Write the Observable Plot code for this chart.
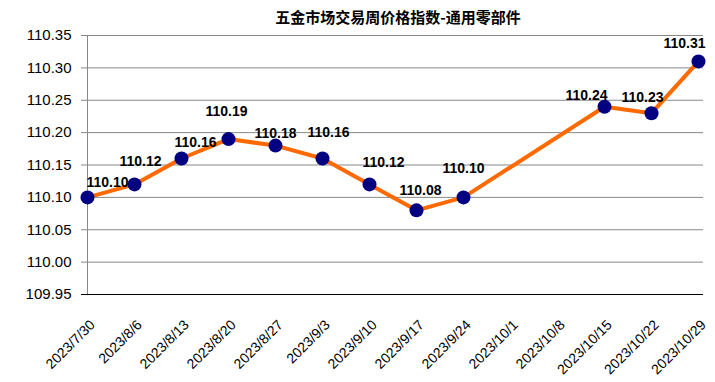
<!DOCTYPE html>
<html>
<head>
<meta charset="utf-8">
<script src="https://cdn.jsdelivr.net/npm/d3@7"></script>
<script src="https://cdn.jsdelivr.net/npm/@observablehq/plot@0.6"></script>
<style>
  html, body { margin: 0; padding: 0; background: #fff; }
  #wrap { position: relative; width: 715px; height: 382px; }
  #title { position: absolute; top: 6px; left: 398px; transform: translateX(-50%);
    font-family: "Noto Sans CJK SC", sans-serif; font-weight: 700; font-size: 15px; white-space: nowrap; color: #000; }
</style>
</head>
<body>
<div id="wrap"><div id="title">五金市场交易周价格指数-通用零部件</div></div>
<script>
const dates = ["2023/7/30","2023/8/6","2023/8/13","2023/8/20","2023/8/27","2023/9/3","2023/9/10","2023/9/17","2023/9/24","2023/10/1","2023/10/8","2023/10/15","2023/10/22","2023/10/29"];
const values = [110.10,110.12,110.16,110.19,110.18,110.16,110.12,110.08,110.10,null,null,110.24,110.23,110.31];
const yTicks = [109.95,110.00,110.05,110.10,110.15,110.20,110.25,110.30,110.35];
// label offsets (styling only)
const labelDx = [20,6,14,-2,0,6,14,4,0,0,0,-18,-9,-14];
const labelDy = [-15,-23,-16,-28,-12,-26,-22,-20,-29,0,0,-11,-16,-18];

const data = dates.map((d, i) => ({date: d, value: values[i], dx: labelDx[i], dy: labelDy[i]})).filter(d => d.value != null);

const labelMarks = data.map(d => Plot.text([d], {
  x: "date", y: "value", text: v => v.value.toFixed(2),
  dx: d.dx, dy: d.dy, fontSize: 14, fontWeight: "bold", fill: "#000"
}));

const chart = Plot.plot({
  width: 715, height: 382,
  marginLeft: 81, marginRight: 12, marginTop: 35, marginBottom: 88,
  style: {fontFamily: "'Liberation Sans', Arial, sans-serif", background: "#fff", color: "#000"},
  x: {type: "point", domain: dates, padding: 0},
  y: {domain: [109.95, 110.35]},
  marks: [
    Plot.gridY(yTicks, {stroke: "#888", strokeOpacity: 1}),
    Plot.ruleX([dates[0]], {stroke: "#888", strokeWidth: 1}),
    Plot.ruleY([109.95], {stroke: "#000", strokeWidth: 1}),
    Plot.axisY(yTicks, {tickSize: 0, tickPadding: 10, tickFormat: d => d.toFixed(2), fontSize: 15, fill: "#000", label: null}),
    Plot.axisX({tickRotate: -45, tickSize: 0, tickPadding: 28, fontSize: 14, fill: "#000", dx: 5, label: null}),
    Plot.line(data, {x: "date", y: "value", stroke: "#FF6A00", strokeWidth: 4}),
    Plot.dot(data, {x: "date", y: "value", r: 7, fill: "#000080", stroke: "none"}),
    ...labelMarks
  ]
});
document.getElementById("wrap").prepend(chart);
</script>
</body>
</html>
